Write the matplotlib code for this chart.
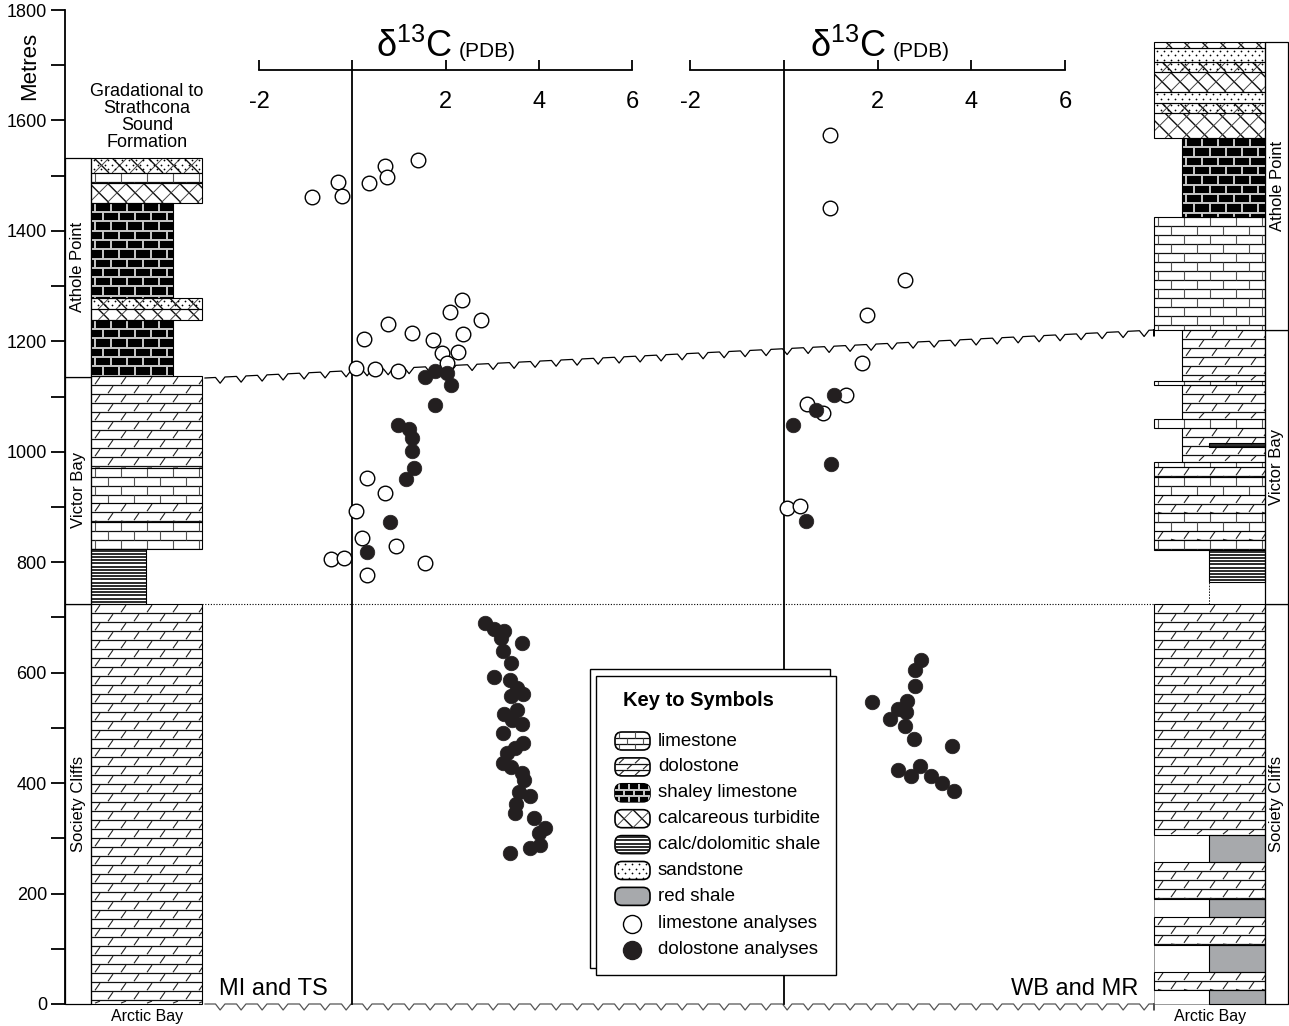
import numpy as np
import matplotlib
matplotlib.use("Agg")
import matplotlib.pyplot as plt
from matplotlib.patches import Rectangle, FancyBboxPatch
from matplotlib.collections import LineCollection

plt.rcParams["font.family"] = ["Liberation Sans", "DejaVu Sans"]
plt.rcParams["mathtext.fontset"] = "custom"
plt.rcParams["mathtext.rm"] = "Liberation Sans"

W, H = 1289, 1026
K = 994 / 1800.0          # pixels per metre on the height scale


def Y(py):
    """pixel row -> metres (used only for layout)"""
    return (1004 - py) / K


# ---------------- isotope data (d13C permil PDB, height m) ----------------
# MI and TS section
mi_lime_d13c = [-0.86, -0.31, -0.21, 0.35, 0.71, 0.74, 1.41,
                0.26, 0.77, 1.29, 1.74, 2.10, 2.35, 2.76, 2.37, 1.93, 2.26, 2.03,
                0.07, 0.49, 0.99, 0.32, 0.71, 0.07, 0.21, 0.93, -0.46, -0.18, 0.32, 1.57]
mi_lime_m = [1461, 1488, 1463, 1487, 1517, 1498, 1529,
             1205, 1231, 1215, 1203, 1253, 1274, 1239, 1213, 1178, 1180, 1160,
             1151, 1150, 1147, 953, 925, 892, 843, 829, 805, 808, 777, 798]
mi_dolo_d13c = [1.55, 1.77, 2.03, 2.12, 1.77, 0.99, 1.22, 1.29, 1.29, 1.33, 1.15, 0.80, 0.32,
                2.84, 3.03, 3.25, 3.19, 3.64, 3.23, 3.41, 3.05, 3.39, 3.66, 3.41, 3.53,
                3.25, 3.53, 3.64, 3.43, 3.23, 3.66, 3.50, 3.32, 3.23, 3.41, 3.64, 3.68,
                3.57, 3.81, 3.52, 3.50, 3.89, 4.14, 4.00, 4.03, 3.81, 3.38]
mi_dolo_m = [1135, 1146, 1142, 1121, 1084, 1048, 1042, 1025, 1002, 971, 950, 873, 818,
             690, 679, 675, 662, 653, 639, 617, 593, 587, 561, 557, 572,
             526, 532, 507, 514, 490, 472, 463, 455, 437, 430, 418, 406,
             384, 377, 362, 345, 336, 318, 309, 288, 282, 274]
# WB and MR section
wb_lime_d13c = [0.99, 0.99, 2.59, 1.77, 1.67, 1.32, 0.49, 0.84, 0.06, 0.35]
wb_lime_m = [1573, 1442, 1311, 1248, 1161, 1103, 1087, 1070, 899, 902]
wb_dolo_d13c = [1.07, 0.68, 0.20, 1.01, 0.47,
                2.93, 2.80, 2.80, 1.89, 2.62, 2.44, 2.61, 2.27, 2.59, 2.78, 3.59,
                2.44, 2.91, 2.72, 3.15, 3.37, 3.63]
wb_dolo_m = [1103, 1075, 1049, 978, 875,
             623, 604, 576, 547, 549, 535, 528, 517, 504, 480, 468,
             424, 431, 412, 413, 400, 386]

# ---------------- stratigraphic columns (metres) ----------------
left_base = [0, 724, 824, 873, 907, 971, 1137, 1239, 1258, 1278, 1451, 1487, 1505]
left_top = [724, 824, 873, 907, 971, 1137, 1239, 1258, 1278, 1451, 1487, 1505, 1532]
left_kind = ["dolo", "cshale", "lime", "dolo", "lime", "dolo", "shaley", "turb",
             "sandturb", "shaley", "turb", "lime", "sandturb"]
left_edge = [202, 146, 202, 202, 202, 202, 173, 202, 202, 173, 202, 202, 202]

right_base = [0, 25, 58, 107, 158, 190, 257, 306, 724, 764, 822, 840, 857, 889, 922, 954,
              972, 982, 1009, 1043, 1059, 1121, 1128, 1221, 1425, 1568, 1613, 1632,
              1652, 1688, 1706, 1731]
right_top = [25, 58, 107, 158, 190, 257, 306, 724, 764, 822, 840, 857, 889, 922, 954, 972,
             982, 1043, 1016, 1059, 1121, 1128, 1221, 1425, 1568, 1613, 1632, 1652,
             1688, 1706, 1731, 1742]
right_kind = ["red", "dolo", "red", "dolo", "red", "dolo", "red", "dolo", "empty",
              "cshale", "lime", "dolo", "lime", "dolo", "lime", "dolo", "lime", "dolo",
              "cshale", "lime", "dolo", "lime", "dolo", "lime", "shaley", "turb",
              "sandturb", "sand", "turb", "sandturb", "sand", "turb"]
right_edge = [1209, 1154, 1209, 1154, 1209, 1154, 1209, 1154, 1209, 1209, 1154, 1154,
              1154, 1154, 1154, 1154, 1154, 1182, 1209, 1154, 1182, 1154, 1182, 1154,
              1182, 1154, 1154, 1154, 1154, 1154, 1154, 1154]

left_fm = [("Society Cliffs", 0, 724), ("Victor Bay", 724, 1136), ("Athole Point", 1136, 1532)]
right_fm = [("Society Cliffs", 0, 724), ("Victor Bay", 724, 1221), ("Athole Point", 1221, 1742)]

key_kinds = ["lime", "dolo", "shaley", "turb", "cshale", "sand", "red"]
key_labels = ["limestone", "dolostone", "shaley limestone", "calcareous turbidite",
              "calc/dolomitic shale", "sandstone", "red shale"]

RED = "#a7a9ac"


def pattern(ax, kind, x0, x1, y0, y1, clip, z, rh=9.0, bw=26.0):
    lcs = []
    if kind in ("lime", "dolo", "shaley"):
        if kind == "shaley":
            rh, bw = 9.3 * rh / 9.0, 16.0 * bw / 26.0
        rhm = rh / K
        hs, vs = [], []
        i, yt = 0, y1
        while yt > y0 + 1e-6:
            yb = max(yt - rhm, y0)
            if i > 0:
                hs.append([(x0, yt), (x1, yt)])
            x = x0 + 4 + (bw / 2.0) * (i % 2)
            while x < x1:
                if kind == "dolo":
                    vs.append([(x, yb + 0.1 * rhm), (x + 5, yt - 0.1 * rhm)])
                else:
                    vs.append([(x, yb), (x, yt)])
                x += bw
            yt -= rhm
            i += 1
        if kind == "shaley":
            lcs.append(LineCollection(hs + vs, colors="#c9c9c9", linewidths=1.4))
        else:
            lcs.append(LineCollection(hs, colors="#111111", linewidths=0.9))
            lcs.append(LineCollection(vs, colors="#555555" if kind == "lime" else "#222222",
                                      linewidths=0.8))
    if kind == "cshale":
        hs = []
        yy = y1 - 1.6 / K
        while yy > y0:
            hs.append([(x0, yy), (x1, yy)])
            yy -= 3.2 / K
        lcs.append(LineCollection(hs, colors="#1a1a1a", linewidths=1.3))
    if kind in ("turb", "sandturb"):
        span = (y1 - y0) * K
        a, b = [], []
        c = x0 - span
        while c < x1 + 18:
            a.append([(c, y1), (c + span, y0)])
            b.append([(c, y0), (c + span, y1)])
            c += 18
        lcs.append(LineCollection(a, colors="#111111", linewidths=1.0))
        lcs.append(LineCollection(b, colors="#444444", linewidths=0.7))
    for lc in lcs:
        lc.set_zorder(z + 0.1)
        ax.add_collection(lc)
        lc.set_clip_path(clip)
    if kind in ("sand", "sandturb"):
        px, py = [], []
        j, yy = 0, y1 - 2.5 / K
        while yy > y0:
            xx = x0 + 3 + 3.5 * (j % 2)
            while xx < x1:
                px.append(xx)
                py.append(yy)
                xx += 7
            yy -= 4.5 / K
            j += 1
        sc = ax.scatter(px, py, s=1.6, c="black", linewidths=0, zorder=z + 0.1)
        sc.set_clip_path(clip)


def layer(ax, kind, x0, x1, y0, y1, z=2, lw=0.8):
    fc = {"shaley": "black", "red": RED}.get(kind, "white")
    bg = Rectangle((x0, y0), x1 - x0, y1 - y0, fc=fc, ec="none", zorder=z)
    ax.add_patch(bg)
    pattern(ax, kind, x0, x1, y0, y1, bg, z)
    ls = (0, (2, 1.5)) if kind == "empty" else "solid"
    ax.add_patch(Rectangle((x0, y0), x1 - x0, y1 - y0, fc="none", ec="black",
                           lw=lw if kind != "empty" else 0.6, ls=ls, zorder=z + 0.2))


def zigzag(xa, xb, pya, pyb, period=21.0, depth=6.0):
    xs, ys = [], []
    x = xa
    while x < xb:
        for fx, d in ((0.0, 0.0), (0.5, 0.0), (0.72, depth), (0.95, 0.0)):
            xx = min(x + fx * period, xb)
            base = pya + (pyb - pya) * (xx - xa) / (xb - xa)
            xs.append(xx)
            ys.append(Y(base + d))
        x += period
    return xs, ys


fig = plt.figure(figsize=(W / 100, H / 100), dpi=100)
YLIM = (Y(H), Y(0))


def d13c_axis(lpx, rpx):
    a = fig.add_axes([lpx / W, 0, (rpx - lpx) / W, 1])
    a.set_zorder(1)
    a.set_xlim(-2, 6)
    a.set_ylim(*YLIM)
    a.patch.set_visible(False)
    for s in ("top", "left", "right"):
        a.spines[s].set_visible(False)
    a.spines["bottom"].set_position(("data", Y(70)))
    a.spines["bottom"].set_bounds(-2, 6)
    a.spines["bottom"].set_linewidth(1.3)
    a.set_yticks([])
    a.set_xticks([-2, 0, 2, 4, 6])
    a.set_xticklabels(["-2", "", "2", "4", "6"], fontsize=17)
    a.tick_params(axis="x", direction="in", length=7, width=1.3, pad=15)
    return a


ax1 = d13c_axis(259, 632)
ax2 = d13c_axis(690, 1065)

ax = fig.add_axes([0, 0, 1, 1])
ax.set_zorder(5)
ax.patch.set_visible(False)
for s in ("top", "right", "bottom"):
    ax.spines[s].set_visible(False)
ax.spines["left"].set_position(("data", 65))
ax.spines["left"].set_bounds(0, 1800)
ax.spines["left"].set_linewidth(1.3)
ax.set_xticks([])
ax.set_yticks(range(0, 1801, 200))
ax.set_yticks(range(100, 1800, 200), minor=True)
ax.tick_params(axis="y", which="both", length=10, width=1.3, pad=3, labelsize=13)
ax.text(30, Y(66), "Metres", rotation=90, ha="center", va="center", fontsize=16)

# columns
for b, t, k, e in zip(left_base, left_top, left_kind, left_edge):
    layer(ax, k, 91, e, b, t)
for b, t, k, e in zip(right_base, right_top, right_kind, right_edge):
    if k == "red":
        ax.add_patch(Rectangle((1154, b), 1209 - 1154, t - b, fc="white", ec="#888888",
                               lw=0.6, zorder=1.9))
    layer(ax, k, e, 1265, b, t)
for name, b, t in left_fm:
    ax.add_patch(Rectangle((65, b), 26, t - b, fc="white", ec="black", lw=0.9, zorder=2))
    ax.text(78, (b + t) / 2, name, rotation=90, ha="center", va="center", fontsize=12, zorder=3)
for name, b, t in right_fm:
    ax.add_patch(Rectangle((1265, b), 23, t - b, fc="white", ec="black", lw=0.9, zorder=2))
    ax.text(1277, (b + t) / 2, name, rotation=90, ha="center", va="center", fontsize=12, zorder=3)

ax.text(147, Y(117), "Gradational to\nStrathcona\nSound\nFormation", ha="center",
        va="center", fontsize=13, linespacing=1.0)
ax.text(147, Y(1017), "Arctic Bay", ha="center", va="center", fontsize=11.5)
ax.text(1210, Y(1017), "Arctic Bay", ha="center", va="center", fontsize=11.5)
ax.text(273, Y(989), "MI and TS", ha="center", va="center", fontsize=17)
ax.text(1075, Y(989), "WB and MR", ha="center", va="center", fontsize=17)

# unconformities and boundary
zx, zy = zigzag(205, 1154, 378, 330)
ax.plot(zx, zy, color="black", lw=0.9, zorder=4)
zx, zy = zigzag(205, 1154, 1004, 1004)
ax.plot(zx, zy, color="#555555", lw=0.9, zorder=4)
ax.plot([202, 1154], [724, 724], color="black", lw=0.8, ls=(0, (1, 1.5)), zorder=4)

# isotope axes titles and zero lines
for a, xr in ((ax1, 452), (ax2, 886)):
    ax.plot([0, 0], [0, Y(70)], color="black", lw=1.3, transform=a.transData, zorder=4)
    ax.text(xr, Y(57), r"δ$^{\mathregular{13}}$C", ha="right", va="baseline", fontsize=26)
    ax.text(xr + 7, Y(57), "(PDB)", ha="left", va="baseline", fontsize=15)

# data points
for a, ld, lm, dd, dm in ((ax1, mi_lime_d13c, mi_lime_m, mi_dolo_d13c, mi_dolo_m),
                          (ax2, wb_lime_d13c, wb_lime_m, wb_dolo_d13c, wb_dolo_m)):
    ax.plot(ld, lm, "o", ms=10.5, mfc="white", mec="black", mew=1.0,
            transform=a.transData, zorder=6)
    ax.plot(dd, dm, "o", ms=10.5, mfc="#231f20", mec="#231f20", mew=0.5,
            transform=a.transData, zorder=7)

# key to symbols
ax.add_patch(Rectangle((590, Y(968)), 240, Y(669) - Y(968), fc="white", ec="black",
                       lw=1.0, zorder=10))
ax.add_patch(Rectangle((596, Y(975)), 240, Y(676) - Y(975), fc="white", ec="black",
                       lw=1.0, zorder=11))
ax.text(623, Y(701), "Key to Symbols", fontsize=14.5, fontweight="bold", va="center",
        zorder=12)
for i, (k, lab) in enumerate(zip(key_kinds, key_labels)):
    cy = 741 + 25.9 * i
    y0, y1 = Y(cy + 9), Y(cy - 9)
    fc = {"shaley": "black", "red": RED}.get(k, "white")

    def icon(fcol, ecol, lw):
        return FancyBboxPatch((615, y0), 35, y1 - y0,
                              boxstyle="round,pad=0,rounding_size=7",
                              mutation_aspect=1 / K, fc=fcol, ec=ecol, lw=lw, zorder=12)
    bg = icon(fc, "none", 0)
    ax.add_patch(bg)
    if k != "red":
        pattern(ax, k, 615, 650, y0, y1, bg, 12, rh=6.0, bw=16.0)
    ax.add_patch(icon("none", "black", 1.2))
    ax.text(658, Y(cy), lab, fontsize=13.5, va="center", zorder=13)
ax.plot([632], [Y(924)], "o", ms=13, mfc="white", mec="black", mew=1.0, zorder=13)
ax.plot([632], [Y(950)], "o", ms=13, mfc="#231f20", mec="#231f20", zorder=13)
ax.text(658, Y(924), "limestone analyses", fontsize=13.5, va="center", zorder=13)
ax.text(658, Y(950), "dolostone analyses", fontsize=13.5, va="center", zorder=13)

ax.set_xlim(0, W)
ax.set_ylim(*YLIM)

fig.savefig("out.png", dpi=100, facecolor="white")
